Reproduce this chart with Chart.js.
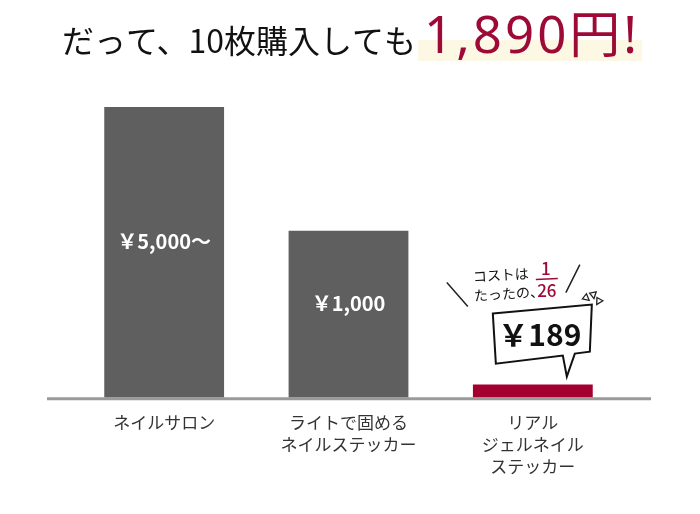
<!DOCTYPE html>
<html>
<head>
<meta charset="utf-8">
<script src="https://cdn.jsdelivr.net/npm/chart.js@4.4.1/dist/chart.umd.min.js"></script>
<style>
  html, body { margin: 0; padding: 0; background: #fff; }
  #wrap { width: 700px; height: 514px; }
</style>
</head>
<body>
<div id="wrap"><canvas id="myChart" width="700" height="514"></canvas></div>
<script>
// data
const categories = [
  ["ネイルサロン"],
  ["ライトで固める", "ネイルステッカー"],
  ["リアル", "ジェルネイル", "ステッカー"]
];
// bar heights as drawn (relative, tallest = 100) - the picture is not to scale
const barHeights = [100, 57.4, 4.5];
const priceLabels = ["￥5,000〜", "￥1,000", "￥189"];
const barColors = ["#5f5f5f", "#5f5f5f", "#a3002f"];
const titleText = "だって、10枚購入しても";
const titleHighlight = "1,890円!";
const ratioTop = "1";
const ratioBottom = "26";

const FONT = "'Noto Sans CJK JP', 'Noto Sans', sans-serif";
const RED = "#9e0a36";

const titlePlugin = {
  id: "titlePlugin",
  afterDraw(chart) {
    const c = chart.ctx;
    c.save();
    // highlight box
    c.fillStyle = "#fdf8e4";
    c.fillRect(418, 40, 224, 21);
    c.textBaseline = "alphabetic";
    c.fillStyle = "#111";
    c.font = "400 32px " + FONT;
    c.textAlign = "right";
    c.fillText(titleText, 416, 53);
    c.fillStyle = RED;
    c.font = "400 51px 'Noto Sans', 'Noto Sans CJK JP', sans-serif";
    c.letterSpacing = "3px";
    c.textAlign = "left";
    c.fillText(titleHighlight, 424, 53);
    c.letterSpacing = "0px";
    c.restore();
  }
};

const baseLinePlugin = {
  id: "baseLinePlugin",
  afterDatasetsDraw(chart) {
    const c = chart.ctx;
    const y = chart.scales.y.getPixelForValue(0);
    c.save();
    c.strokeStyle = "#9a9a9a";
    c.lineWidth = 3;
    c.beginPath();
    c.moveTo(47, y + 1);
    c.lineTo(651, y + 1);
    c.stroke();
    c.restore();
  }
};

const labelPlugin = {
  id: "labelPlugin",
  afterDatasetsDraw(chart) {
    const c = chart.ctx;
    const bars = chart.getDatasetMeta(0).data;
    c.save();
    c.textAlign = "center";
    c.textBaseline = "middle";
    c.fillStyle = "#fff";
    c.font = "700 20px " + FONT;
    [0, 1].forEach(function (i) {
      const b = bars[i];
      const mid = (b.y + b.base) / 2;
      c.fillText(priceLabels[i], b.x, mid - 11);
    });

    // speech bubble over the third bar
    const b = bars[2];
    const ox = b.x, oy = b.y;
    c.strokeStyle = "#111";
    c.lineWidth = 2;
    c.fillStyle = "#fff";
    c.beginPath();
    c.moveTo(ox - 40, oy - 71);
    c.lineTo(ox + 59, oy - 80);
    c.lineTo(ox + 57, oy - 33);
    c.lineTo(ox + 42, oy - 31);
    c.lineTo(ox + 34, oy - 8);
    c.lineTo(ox + 30, oy - 29);
    c.lineTo(ox - 37, oy - 21);
    c.closePath();
    c.fill();
    c.stroke();
    c.fillStyle = "#111";
    c.font = "700 30px " + FONT;
    c.fillText(priceLabels[2], ox + 7, oy - 50);

    // small comment above
    c.font = "400 14px " + FONT;
    c.textAlign = "left";
    c.save();
    c.translate(ox - 60, oy - 108);
    c.rotate(-0.06);
    c.fillText("コストは", 0, 0);
    c.fillText("たったの、", 0, 19);
    c.restore();
    c.fillStyle = RED;
    c.textAlign = "center";
    c.font = "500 17px " + FONT;
    c.fillText(ratioTop, ox + 13, oy - 116);
    c.fillText(ratioBottom, ox + 14, oy - 94);
    c.strokeStyle = RED;
    c.lineWidth = 1.5;
    c.beginPath();
    c.moveTo(ox + 3, oy - 105);
    c.lineTo(ox + 25, oy - 106);
    c.stroke();

    // slashes
    c.strokeStyle = "#222";
    c.lineWidth = 1.5;
    c.beginPath();
    c.moveTo(ox - 86, oy - 102);
    c.lineTo(ox - 65, oy - 78);
    c.moveTo(ox + 47, oy - 120);
    c.lineTo(ox + 33, oy - 92);
    c.stroke();

    // little triangles
    c.lineWidth = 1.3;
    [[ox + 53, oy - 88, 0.2], [ox + 61, oy - 91, 0.9], [ox + 67, oy - 84, 1.6]].forEach(function (t) {
      c.save();
      c.translate(t[0], t[1]);
      c.rotate(t[2]);
      c.beginPath();
      c.moveTo(-3, 3);
      c.lineTo(4, 3);
      c.lineTo(0, -3);
      c.closePath();
      c.stroke();
      c.restore();
    });
    c.restore();
  }
};

const ctx = document.getElementById("myChart").getContext("2d");
const myChart = new Chart(ctx, {
  type: "bar",
  data: {
    labels: categories,
    datasets: [
      {
        data: barHeights,
        backgroundColor: barColors,
        borderWidth: 0,
        barPercentage: 1,
        categoryPercentage: 0.65,
      },
    ],
  },
  options: {
    responsive: false,
    animation: false,
    layout: {
      padding: { left: 72, right: 75, top: 107, bottom: 30 },
    },
    plugins: {
      legend: false,
      tooltip: { enabled: false },
    },
    scales: {
      x: {
        grid: { display: false },
        border: { display: false },
        ticks: {
          color: "#333",
          padding: 6,
          font: { family: FONT, size: 17, lineHeight: 1.3 },
          maxRotation: 0,
          autoSkip: false,
        },
      },
      y: {
        display: false,
        min: 0,
        max: 100,
      },
    },
  },
  plugins: [titlePlugin, baseLinePlugin, labelPlugin],
});
</script>
</body>
</html>
